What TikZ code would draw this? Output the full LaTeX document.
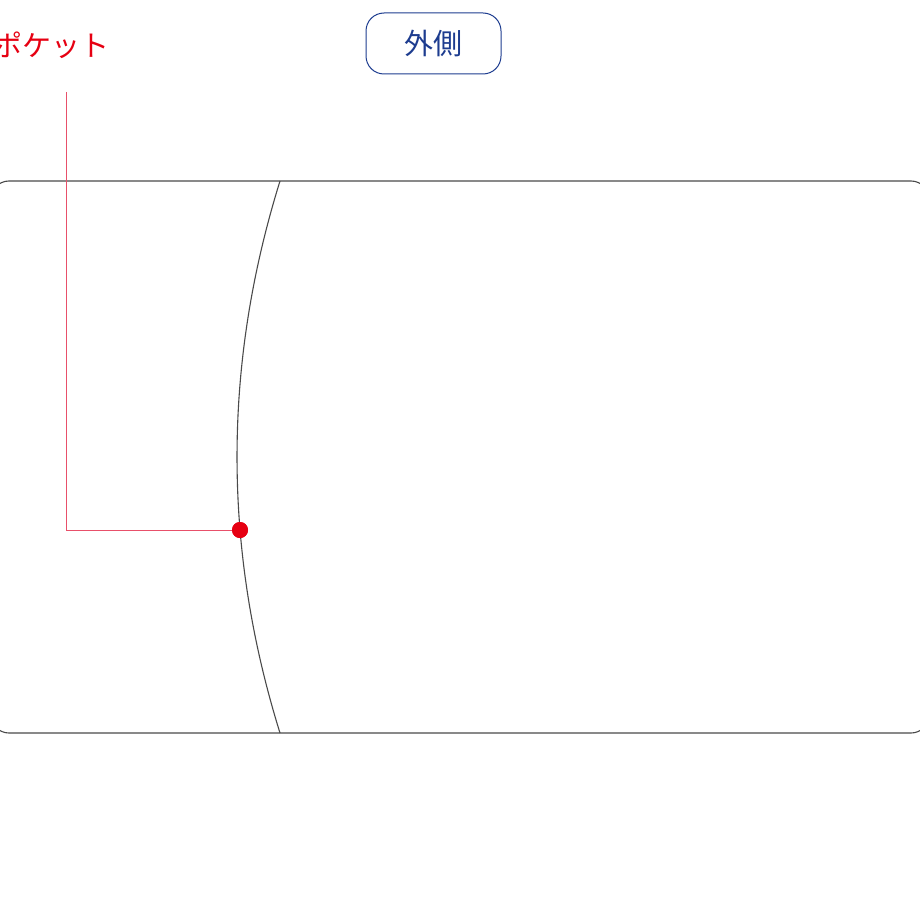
\documentclass[tikz,border=0pt]{standalone}
\usepackage{fontspec}
\newfontfamily\jp{Noto Sans CJK JP}
\definecolor{pred}{HTML}{E60012}
\definecolor{pline}{HTML}{E8506A}
\definecolor{nblue}{HTML}{1D3C8F}
\definecolor{edge}{HTML}{4A4A4A}
\tikzset{
  outline/.style={draw=edge, line width=1.1pt},
  tag/.style={draw=nblue, line width=1pt, rounded corners=18pt, minimum width=135pt, minimum height=61pt, text=nblue, font=\jp\fontsize{29}{32}\selectfont},
  redlabel/.style={text=pred, font=\jp\fontsize{29}{32}\selectfont, inner sep=0pt},
  leader/.style={draw=pline, line width=0.9pt},
  reddot/.style={circle, fill=pred, minimum size=16pt, inner sep=0pt}
}
\begin{document}
\begin{tikzpicture}[x=1pt,y=-1pt]
\useasboundingbox (0,0) rectangle (920,920);
% card outline
\draw[outline, rounded corners=18pt] (-9,181) rectangle (929,733);
% curved pocket edge
\draw[outline] (280,181) .. controls (222.7,365) and (222.7,549) .. (280,733);
% labels
\node[tag] (outside) at (433.5,43.5) {外側};
\node[redlabel, anchor=west] (pocket) at (-7,45) {ポケット};
\node[reddot] (dot) at (240,530) {};
\coordinate (leadtop) at (66,92);
\draw[leader] (leadtop) |- (dot.center);
\node[reddot] at (240,530) {};
\end{tikzpicture}
\end{document}
